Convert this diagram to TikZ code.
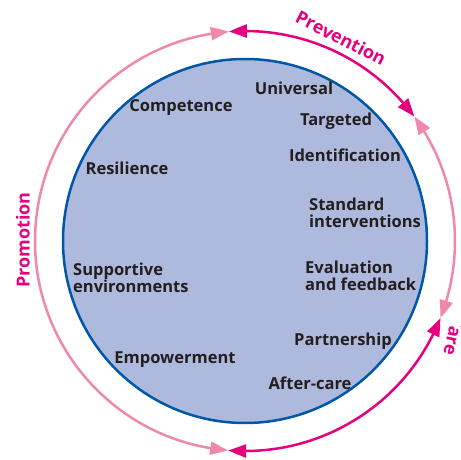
\documentclass[tikz,border=0pt]{standalone}
\usepackage{fontspec}
\setmainfont{Open Sans}
\usetikzlibrary{arrows.meta,bending}
\definecolor{mag}{HTML}{E5007E}
\definecolor{pnk}{HTML}{EE88AC}
\definecolor{fillblue}{HTML}{AEB9DE}
\definecolor{edgeblue}{HTML}{0057A6}
\definecolor{txt}{HTML}{231F20}
\begin{document}
\begin{tikzpicture}[x=1pt,y=1pt,
  lbl/.style={font=\bfseries\fontsize{16.5}{16.5}\selectfont, text=txt, inner sep=0pt},
  two/.style={lbl, align=left, anchor=west},
  ring/.style={line width=2.5pt, {Triangle[length=18pt,width=13pt,bend]}-{Triangle[length=18pt,width=13pt,bend]}},
  ttl/.style={font=\bfseries\fontsize{18}{18}\selectfont, text=mag, inner sep=0pt}]
\useasboundingbox (0,0) rectangle (461,459);
\coordinate (O) at (245,218);
\node[circle, draw=edgeblue, fill=fillblue, line width=2.5pt, minimum size=364pt, inner sep=0pt] (disc) at (O) {};
\coordinate (J1) at ([shift={(94.4:210)}]O);
\coordinate (J2) at ([shift={(36.3:210)}]O);
\coordinate (J3) at ([shift={(-21.5:210)}]O);
\coordinate (J4) at ([shift={(265.4:210)}]O);
\draw[ring, mag] (J1) arc[start angle=94.4, end angle=36.3, radius=210];
\draw[ring, pnk] (J2) arc[start angle=36.3, end angle=-21.5, radius=210];
\draw[ring, mag] (J3) arc[start angle=-21.5, end angle=-94.6, radius=210];
\draw[ring, pnk] (J4) arc[start angle=265.4, end angle=94.4, radius=210];
% ring labels
\node[ttl, rotate=-27] (prev) at (341,421) {Prevention};
\node[ttl, rotate=90] (prom) at (23,219) {Promotion};
\begin{scope}
\clip (430,0) rectangle (461,133);
\node[ttl, rotate=-102] (care) at (454,123.6) {Care};
\end{scope}
% inner labels
\node[lbl, anchor=base] (univ) at (294,364) {Universal};
\node[lbl, anchor=base] (targ) at (336,334) {Targeted};
\node[lbl, anchor=base] (iden) at (345,298) {Identification};
\node[two] (stand) at (309,246) {Standard\\interventions};
\node[two] (eval) at (305,183) {Evaluation\\and feedback};
\node[lbl, anchor=base] (part) at (343,114) {Partnership};
\node[lbl, anchor=base] (after) at (310,70) {After-care};
\node[lbl, anchor=base] (comp) at (181,348) {Competence};
\node[lbl, anchor=base] (resi) at (127,285) {Resilience};
\node[two] (supp) at (73,181) {Supportive\\environments};
\node[lbl, anchor=base] (empo) at (175,96) {Empowerment};
\end{tikzpicture}
\end{document}
